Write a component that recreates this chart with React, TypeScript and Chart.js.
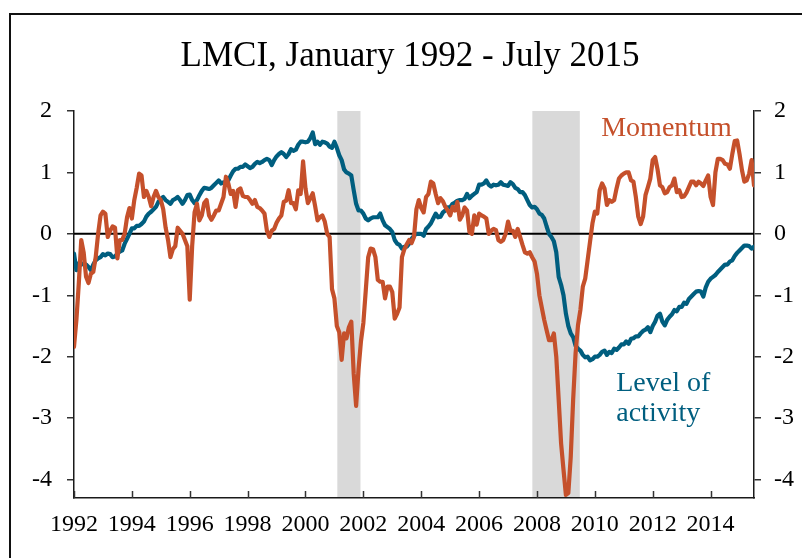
import { useEffect, useRef } from "react";
import { Chart, registerables } from "chart.js";

Chart.register(...registerables);

// ---- data (monthly, January 1992 - July 2015) ----
const START_YEAR = 1992;

const momentum: number[] = [
  // 1992
  -1.84, -1.4, -0.8, -0.1, -0.3, -0.7, -0.8, -0.65, -0.62, -0.38, 0.0, 0.3,
  // 1993
  0.36, 0.33, -0.05, 0.05, 0.12, 0.1, -0.4, -0.1, -0.1, 0.0, 0.27, 0.42,
  // 1994
  0.25, 0.55, 0.75, 0.98, 0.95, 0.6, 0.7, 0.6, 0.45, 0.6, 0.7, 0.6,
  // 1995
  0.55, 0.4, 0.1, -0.1, -0.38, -0.25, -0.2, 0.1, 0.05, 0.0, -0.1, -0.2,
  // 1996
  -1.07, -0.2, 0.35, 0.49, 0.22, 0.3, 0.5, 0.55, 0.3, 0.23, 0.3, 0.38,
  // 1997
  0.38, 0.49, 0.6, 0.93, 0.82, 0.65, 0.7, 0.44, 0.71, 0.74, 0.62, 0.6,
  // 1998
  0.6, 0.55, 0.49, 0.55, 0.44, 0.42, 0.38, 0.33, 0.05, -0.05, 0.05, 0.08,
  // 1999
  0.18, 0.25, 0.3, 0.52, 0.54, 0.71, 0.5, 0.5, 0.4, 0.71, 0.65, 1.18,
  // 2000
  0.74, 0.5, 0.58, 0.66, 0.45, 0.22, 0.27, 0.3, 0.2, 0.0, -0.05, -0.9,
  // 2001
  -1.05, -1.5, -1.6, -2.05, -1.62, -1.7, -1.52, -1.43, -2.28, -2.8, -2.2, -1.75,
  // 2002
  -1.45, -0.92, -0.38, -0.24, -0.25, -0.38, -0.75, -0.78, -0.78, -1.05, -0.86, -0.86,
  // 2003
  -0.95, -1.38, -1.3, -1.2, -0.38, -0.25, -0.17, -0.1, -0.15, -0.05, 0.4, 0.55,
  // 2004
  0.42, 0.35, 0.6, 0.65, 0.85, 0.82, 0.65, 0.5, 0.58, 0.53, 0.44, 0.38,
  // 2005
  0.3, 0.44, 0.38, 0.52, 0.23, 0.3, 0.43, 0.38, 0.03, 0.0, 0.3, 0.15,
  // 2006
  0.33, 0.3, 0.28, 0.25, 0.0, 0.05, 0.08, 0.06, -0.1, -0.13, -0.1, 0.0,
  // 2007
  0.2, 0.05, 0.05, -0.05, 0.08, -0.05, -0.18, -0.3, -0.32, -0.3, -0.38, -0.45,
  // 2008
  -0.65, -1.0, -1.2, -1.4, -1.57, -1.73, -1.73, -1.62, -2.0, -2.7, -3.41, -3.84,
  // 2009
  -4.25, -4.22, -3.63, -2.7, -1.95, -1.49, -1.24, -0.86, -0.73, -0.43, -0.13, 0.17,
  // 2010
  0.36, 0.33, 0.71, 0.82, 0.74, 0.47, 0.55, 0.52, 0.55, 0.74, 0.9, 0.95,
  // 2011
  0.98, 1.0, 1.0, 0.87, 0.85, 0.6, 0.28, 0.16, 0.28, 0.63, 0.76, 0.9,
  // 2012
  1.2, 1.25, 1.05, 0.79, 0.76, 0.66, 0.68, 0.76, 0.79, 0.9, 0.68, 0.71,
  // 2013
  0.6, 0.61, 0.67, 0.76, 0.85, 0.85, 0.79, 0.85, 0.82, 0.78, 0.87, 0.95,
  // 2014
  0.6, 0.47, 1.0, 1.22, 1.22, 1.2, 1.14, 1.13, 1.06, 1.3, 1.51, 1.52,
  // 2015
  1.3, 1.04, 0.85, 0.87, 0.98, 1.2, 0.79,
];

const level: number[] = [
  // 1992
  -0.32, -0.59, -0.48, -0.5, -0.48, -0.5, -0.54, -0.59, -0.5, -0.43, -0.4, -0.38,
  // 1993
  -0.33, -0.35, -0.32, -0.33, -0.38, -0.37, -0.32, -0.29, -0.27, -0.16, -0.08, 0.0,
  // 1994
  0.09, 0.09, 0.13, 0.13, 0.16, 0.2, 0.28, 0.33, 0.36, 0.4, 0.44, 0.52,
  // 1995
  0.57, 0.6, 0.55, 0.52, 0.49, 0.55, 0.57, 0.6, 0.55, 0.49, 0.55, 0.63,
  // 1996
  0.64, 0.55, 0.5, 0.55, 0.63, 0.7, 0.75, 0.74, 0.73, 0.75, 0.79, 0.83,
  // 1997
  0.87, 0.82, 0.84, 0.82, 0.87, 0.95, 1.02, 1.06, 1.06, 1.09, 1.09, 1.13,
  // 1998
  1.1, 1.07, 1.09, 1.14, 1.17, 1.15, 1.17, 1.2, 1.22, 1.2, 1.12, 1.2,
  // 1999
  1.26, 1.3, 1.33, 1.3, 1.25, 1.3, 1.38, 1.35, 1.37, 1.45, 1.5, 1.5,
  // 2000
  1.49, 1.5, 1.56, 1.65, 1.46, 1.5, 1.45, 1.5, 1.49, 1.47, 1.42, 1.4,
  // 2001
  1.5, 1.4, 1.28, 1.2, 1.05, 1.0, 0.98, 0.95, 0.71, 0.49, 0.38, 0.38,
  // 2002
  0.33, 0.25, 0.22, 0.25, 0.27, 0.27, 0.27, 0.33, 0.22, 0.14, 0.11, 0.08,
  // 2003
  0.03, -0.1, -0.16, -0.18, -0.24, -0.21, -0.21, -0.16, -0.08, -0.03, 0.0, 0.0,
  // 2004
  0.0, -0.03, 0.08, 0.12, 0.17, 0.25, 0.33, 0.27, 0.28, 0.35, 0.38, 0.43,
  // 2005
  0.43, 0.49, 0.51, 0.54, 0.55, 0.55, 0.57, 0.65, 0.58, 0.62, 0.65, 0.68,
  // 2006
  0.8, 0.8, 0.82, 0.87, 0.8, 0.77, 0.8, 0.79, 0.8, 0.84, 0.8, 0.79,
  // 2007
  0.78, 0.84, 0.81, 0.75, 0.73, 0.68, 0.68, 0.63, 0.55, 0.47, 0.43, 0.44,
  // 2008
  0.4, 0.33, 0.31, 0.25, 0.12, 0.0, -0.05, -0.12, -0.3, -0.7, -0.83, -1.0,
  // 2009
  -1.3, -1.5, -1.62, -1.68, -1.82, -1.87, -1.9, -1.97, -2.01, -2.0, -2.06, -2.04,
  // 2010
  -2.0, -2.0, -1.97, -1.92, -1.9, -1.97, -1.92, -1.94, -1.87, -1.89, -1.85, -1.8,
  // 2011
  -1.8, -1.75, -1.79, -1.71, -1.7, -1.67, -1.67, -1.62, -1.58, -1.56, -1.52, -1.6,
  // 2012
  -1.5, -1.43, -1.33, -1.3, -1.43, -1.49, -1.4, -1.35, -1.31, -1.24, -1.26, -1.19,
  // 2013
  -1.19, -1.12, -1.14, -1.06, -1.02, -0.98, -0.94, -0.93, -0.94, -1.02, -0.87, -0.78,
  // 2014
  -0.73, -0.7, -0.67, -0.62, -0.58, -0.54, -0.5, -0.5, -0.45, -0.43, -0.36, -0.31,
  // 2015
  -0.27, -0.23, -0.19, -0.19, -0.2, -0.24, -0.21,
];

const xTickYears = [1992, 1994, 1996, 1998, 2000, 2002, 2004, 2006, 2008, 2010, 2012, 2014];
const yTickValues = [-4, -3, -2, -1, 0, 1, 2];
const recessions: [number, number][] = [
  [2001.1, 2001.9],
  [2007.84, 2009.48],
];
const TITLE = "LMCI, January 1992 - July 2015";
const MOMENTUM_LABEL = "Momentum";
const LEVEL_LABEL = ["Level of", "activity"];

const ORANGE = "#C5502B";
const BLUE = "#005E7F";
const SERIF = "'Liberation Serif', 'Times New Roman', serif";

const overlayPlugin = {
  id: "overlay",
  beforeDatasetsDraw(chart: any) {
    const { ctx, chartArea: a, scales } = chart;
    const x = scales.x;
    const y = scales.y;
    ctx.save();
    ctx.fillStyle = "#D9D9D9";
    for (const [s, e] of recessions) {
      const x0 = x.getPixelForValue(s);
      const x1 = x.getPixelForValue(e);
      ctx.fillRect(x0, a.top, x1 - x0, a.bottom - a.top - 1);
    }
    const y0 = y.getPixelForValue(0);
    ctx.strokeStyle = "#000";
    ctx.lineWidth = 2;
    ctx.beginPath();
    ctx.moveTo(a.left, y0);
    ctx.lineTo(a.right, y0);
    ctx.stroke();
    ctx.restore();
  },
  afterDraw(chart: any) {
    const { ctx, chartArea: a, scales } = chart;
    const x = scales.x;
    const y = scales.y;
    ctx.save();
    // inward ticks on the x axis
    ctx.strokeStyle = "#333";
    ctx.lineWidth = 1.5;
    for (const yr of xTickYears) {
      const px = Math.round(x.getPixelForValue(yr)) + 0.5;
      ctx.beginPath();
      ctx.moveTo(px, a.bottom);
      ctx.lineTo(px, a.bottom - 7);
      ctx.stroke();
    }
    // outer frame
    ctx.strokeStyle = "#111";
    ctx.lineWidth = 2;
    ctx.beginPath();
    ctx.moveTo(10, chart.height + 2);
    ctx.lineTo(10, 14);
    ctx.lineTo(chart.width + 2, 14);
    ctx.stroke();
    // title
    ctx.fillStyle = "#000";
    ctx.font = `35px ${SERIF}`;
    ctx.textAlign = "center";
    ctx.textBaseline = "alphabetic";
    ctx.fillText(TITLE, 410, 66);
    // series labels
    ctx.font = `28px ${SERIF}`;
    ctx.textAlign = "left";
    ctx.fillStyle = ORANGE;
    ctx.fillText(MOMENTUM_LABEL, x.getPixelForValue(2010.22), y.getPixelForValue(1.59));
    ctx.fillStyle = BLUE;
    ctx.fillText(LEVEL_LABEL[0], x.getPixelForValue(2010.74), y.getPixelForValue(-2.56));
    ctx.fillText(LEVEL_LABEL[1], x.getPixelForValue(2010.74), y.getPixelForValue(-3.05));
    ctx.restore();
  },
};

export default function App() {
  const canvasRef = useRef<HTMLCanvasElement | null>(null);

  useEffect(() => {
    const canvas = canvasRef.current;
    if (!canvas) return;
    const toPoints = (arr: number[]) =>
      arr.map((v, i) => ({ x: START_YEAR + i / 12, y: v }));

    const tickFont = { family: SERIF, size: 24 };
    const yScaleBase = {
      type: "linear" as const,
      min: -4.3,
      max: 2,
      afterBuildTicks: (s: any) => {
        s.ticks = yTickValues.map((v) => ({ value: v }));
      },
      grid: {
        display: true,
        drawOnChartArea: false,
        drawTicks: true,
        tickLength: 7,
        color: "#333",
        lineWidth: 1.5,
      },
      border: { display: true, color: "#1a1a1a", width: 1.5 },
    };

    const chart = new Chart(canvas, {
      type: "line",
      data: {
        datasets: [
          {
            label: "Momentum",
            data: toPoints(momentum),
            borderColor: ORANGE,
            borderWidth: 4.2,
            pointRadius: 0,
            tension: 0,
            borderJoinStyle: "round",
            borderCapStyle: "round",
            yAxisID: "y",
          },
          {
            label: "Level of activity",
            data: toPoints(level),
            borderColor: BLUE,
            borderWidth: 4.2,
            pointRadius: 0,
            tension: 0,
            borderJoinStyle: "round",
            borderCapStyle: "round",
            yAxisID: "y",
          },
        ],
      },
      options: {
        responsive: false,
        animation: false,
        parsing: true,
        layout: { padding: { top: 111, left: 0, right: 0, bottom: 0 } },
        plugins: {
          legend: { display: false },
          tooltip: { enabled: false },
          title: { display: false },
        },
        scales: {
          x: {
            type: "linear",
            min: 1992,
            max: 2015.5,
            afterBuildTicks: (s: any) => {
              s.ticks = xTickYears.map((v) => ({ value: v }));
            },
            afterFit: (s: any) => {
              s.height = 60;
            },
            grid: { display: false, drawTicks: false },
            border: { display: true, color: "#1a1a1a", width: 1.5 },
            ticks: {
              font: tickFont,
              color: "#000",
              padding: 12,
              maxRotation: 0,
              autoSkip: false,
              callback: (v: any) => String(v),
            },
          },
          y: {
            ...yScaleBase,
            position: "left",
            afterFit: (s: any) => {
              s.width = 74;
            },
            ticks: {
              font: tickFont,
              color: "#000",
              padding: 15,
              callback: (v: any) => String(v),
            },
          },
          y2: {
            ...yScaleBase,
            position: "right",
            afterFit: (s: any) => {
              s.width = 48;
            },
            ticks: {
              font: tickFont,
              color: "#000",
              padding: 13,
              callback: (v: any) => String(v),
            },
          },
        },
      },
      plugins: [overlayPlugin],
    } as any);

    return () => {
      chart.destroy();
    };
  }, []);

  return (
    <div style={{ position: "fixed", left: 0, top: 0, width: 802, height: 558, background: "#fff" }}>
      <canvas ref={canvasRef} width={802} height={558} style={{ display: "block" }} />
    </div>
  );
}
